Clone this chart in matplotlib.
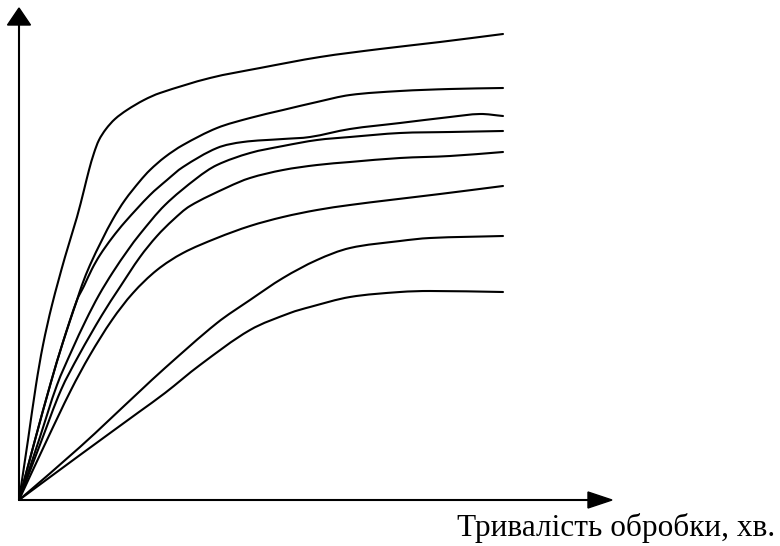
import matplotlib
matplotlib.use("Agg")
import numpy as np
import matplotlib.pyplot as plt
from matplotlib.patches import Polygon, PathPatch
from matplotlib.path import Path

# Curves (arbitrary units, origin at the axes corner)
c1_x = [0, 9, 17, 24, 33, 46, 58, 65, 70, 75, 80, 87, 96, 108, 125, 141, 191, 241, 301, 361, 421, 484]
c1_y = [0, 60, 115, 155, 195, 243, 283, 310, 330, 347, 360, 371, 381, 390, 400, 407, 422, 432, 443, 451, 458, 466]

c2_x = [0, 16, 32, 44, 58, 63, 71, 83, 94, 106, 121, 131, 146, 164, 198, 231, 264, 298, 331, 381, 431, 484]
c2_y = [0, 60, 118, 158, 200, 215, 235, 260, 281, 300, 319, 330, 343, 355, 372, 382, 390, 398, 405, 409, 411, 412]

c3_x = [0, 16, 32, 44, 58, 65, 73, 81, 93, 106, 131, 148, 164, 198, 224, 264, 291, 331, 381, 431, 461, 484]
c3_y = [0, 60, 118, 158, 200, 214, 231, 245, 262, 278, 305, 320, 333, 352, 358, 361, 363, 371, 377, 383, 386, 384]

c4_x = [0, 20, 38, 53, 67, 80, 94, 109, 121, 146, 178, 198, 231, 264, 298, 331, 381, 431, 484]
c4_y = [0, 60, 115, 150, 180, 205, 228, 250, 266, 295, 322, 335, 347, 354, 360, 363, 367, 368, 369]

c5_x = [0, 22, 42, 60, 83, 101, 121, 138, 154, 171, 209, 231, 264, 298, 331, 381, 431, 484]
c5_y = [0, 58, 110, 145, 185, 213, 243, 264, 280, 294, 313, 322, 330, 335, 338, 342, 344, 348]

c6_x = [0, 27, 52, 71, 93, 114, 138, 164, 198, 231, 264, 298, 331, 371, 421, 484]
c6_y = [0, 58, 110, 145, 180, 207, 230, 247, 262, 274, 283, 290, 295, 300, 306, 314]

c7_x = [0, 61, 120, 146, 198, 231, 264, 298, 331, 381, 411, 484]
c7_y = [0, 53, 108, 132, 177, 200, 222, 240, 252, 259, 262, 264]

c8_x = [0, 61, 120, 146, 181, 231, 271, 291, 331, 381, 411, 484]
c8_y = [0, 45, 88, 107, 135, 170, 187, 193, 203, 208, 209, 208]

curves = [(c1_x, c1_y), (c2_x, c2_y), (c3_x, c3_y), (c4_x, c4_y),
          (c5_x, c5_y), (c6_x, c6_y), (c7_x, c7_y), (c8_x, c8_y)]

x_label = "Тривалість обробки, хв."


def smooth_path(xs, ys):
    """Bezier path passing through every read point (rendering only)."""
    p = np.column_stack([xs, ys]).astype(float)
    n = len(p)
    tang = np.zeros_like(p)
    for i in range(n):
        a = p[max(i - 1, 0)]
        b = p[min(i + 1, n - 1)]
        d = b - a
        tang[i] = d / np.hypot(*d)
    verts = [p[0]]
    codes = [Path.MOVETO]
    for i in range(n - 1):
        L = np.hypot(*(p[i + 1] - p[i])) / 3.0
        verts += [p[i] + tang[i] * L, p[i + 1] - tang[i + 1] * L, p[i + 1]]
        codes += [Path.CURVE4] * 3
    return Path(verts, codes)


fig = plt.figure(figsize=(7.8, 5.46), dpi=100)
ax = fig.add_axes([0, 0, 1, 1])
ax.set_xlim(-19, 761)
ax.set_ylim(-46, 500)
ax.axis("off")

for xs, ys in curves:
    ax.add_patch(PathPatch(smooth_path(xs, ys), facecolor="none",
                           edgecolor="black", lw=1.5, capstyle="round",
                           joinstyle="round"))

# axes with arrows
ax.plot([0, 575], [0, 0], color="black", lw=1.5, solid_capstyle="butt")
ax.plot([0, 0], [0, 480], color="black", lw=1.5, solid_capstyle="butt")
ax.add_patch(Polygon([[569, -8], [569, 8], [593, 0]], closed=True, color="black"))
ax.add_patch(Polygon([[-11.5, 475], [11.5, 475], [0, 492]], closed=True, color="black"))

ax.text(756, -36, x_label, ha="right", va="baseline",
        fontsize=22.5, family=["Liberation Serif", "DejaVu Serif"])

fig.savefig("out.png", dpi=100)
